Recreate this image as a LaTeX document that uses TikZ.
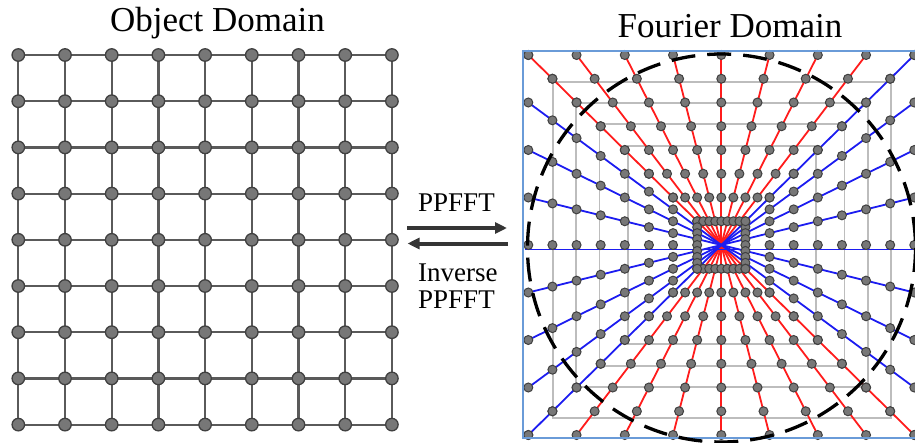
\documentclass[tikz,border=0pt]{standalone}
\usepackage{fontspec}
\setmainfont{Liberation Serif}
\usetikzlibrary{arrows.meta}
\definecolor{ptfill}{HTML}{777777}
\definecolor{ptdraw}{HTML}{404040}
\definecolor{gridline}{HTML}{5A5A5A}
\definecolor{sqgray}{HTML}{BDBDBD}
\definecolor{frameblue}{HTML}{6A9BD8}
\definecolor{rayred}{HTML}{FF1C1C}
\definecolor{rayblue}{HTML}{1C1CF0}
\definecolor{arrowgray}{HTML}{353535}
\begin{document}
\begin{tikzpicture}[x=1pt,y=-1pt,
  objpt/.style={circle,fill=ptfill,draw=ptdraw,line width=1.3pt,minimum size=12.5pt,inner sep=0pt},
  fpt/.style={circle,fill=ptfill,draw=ptdraw,line width=1pt,minimum size=9pt,inner sep=0pt},
  objline/.style={draw=gridline,line width=2.2pt},
  sqline/.style={draw=sqgray,line width=1.8pt},
  redray/.style={draw=rayred,line width=1.8pt},
  blueray/.style={draw=rayblue,line width=1.8pt},
  frame/.style={draw=frameblue,line width=2.2pt},
  ring/.style={draw=black,line width=3.3pt,dash pattern=on 24pt off 12pt},
  bigarrow/.style={draw=arrowgray,line width=4pt,-{Triangle[length=12pt,width=11pt]}},
  title/.style={inner sep=0pt,anchor=base,font=\fontsize{35}{42}\selectfont},
  label/.style={inner sep=0pt,anchor=base west,font=\fontsize{27}{32}\selectfont}]
\useasboundingbox (0,0) rectangle (915,442);

% ---------- Object domain ----------
\foreach \i in {0,...,8}{
  \foreach \j in {0,...,8}{
    \coordinate (c-\i-\j) at ({18.3+46.7*\i},{55+46.2*\j});
  }
}
\foreach \i in {0,...,8}{
  \draw[objline] (c-\i-0) -- (c-\i-8);
  \draw[objline] (c-0-\i) -- (c-8-\i);
}
\foreach \i in {0,...,8}{
  \foreach \j in {0,...,8}{
    \node[objpt] (o-\i-\j) at (c-\i-\j) {};
  }
}
\node[title] (tobj) at (217.5,31.7) {Object Domain};

% ---------- Arrows and labels ----------
\coordinate (a1s) at (407,228);
\coordinate (a1e) at (507,228);
\coordinate (a2s) at (508,243.5);
\coordinate (a2e) at (407.5,243.5);
\draw[bigarrow] (a1s) -- (a1e);
\draw[bigarrow] (a2s) -- (a2e);
\node[label] (lf) at (418,211.5) {PPFFT};
\node[label] (li1) at (418,281.7) {Inverse};
\node[label] (li2) at (418,308.3) {PPFFT};

% ---------- Fourier domain ----------
\def\cx{721.3}
\def\cy{245}
\def\Rx{193}
\def\Ry{190}
% gray concentric squares
\draw[sqline] (552.7,81.7) rectangle (891.3,417.7);
\draw[sqline] (576,103.3) rectangle (868,386.7);
\draw[sqline] (599.5,124) rectangle (844.5,366);
\draw[sqline] (627.7,145.7) rectangle (816.3,344.3);

% ray end points
\foreach \k in {-4,...,4}{
  \coordinate (rt\k) at ({\cx+\k/4*\Rx},{\cy-\Ry});
  \coordinate (rb\k) at ({\cx-\k/4*\Rx},{\cy+\Ry});
  \coordinate (bl\k) at ({\cx-\Rx},{\cy+\k/4*\Ry});
  \coordinate (br\k) at ({\cx+\Rx},{\cy-\k/4*\Ry});
}
\coordinate (hl) at (525,249.5);
\coordinate (hr) at (915,249.5);
\foreach \k in {-4,...,3}{
  \draw[redray] (rt\k) -- (rb\k);
}
\foreach \k in {-3,-2,-1,1,2,3,4}{
  \draw[blueray] (bl\k) -- (br\k);
}
\draw[blueray] (hl) -- (hr);

% pseudo-polar points
\foreach \j in {1,...,8}{
  \foreach \k in {-4,...,4}{
    \pgfmathsetmacro{\dx}{\k/4*\j/8*\Rx}
    \pgfmathsetmacro{\dy}{\k/4*\j/8*\Ry}
    \pgfmathsetmacro{\hx}{\j/8*\Rx}
    \pgfmathsetmacro{\hy}{\j/8*\Ry}
    \node[fpt] (ft-\j-\k) at ({\cx+(\dx)},{\cy-(\hy)}) {};
    \node[fpt] (fb-\j-\k) at ({\cx+(\dx)},{\cy+(\hy)}) {};
    \node[fpt] (fl-\j-\k) at ({\cx-(\hx)},{\cy+(\dy)}) {};
    \node[fpt] (fr-\j-\k) at ({\cx+(\hx)},{\cy+(\dy)}) {};
  }
}
% frame
\draw[frame] (523.3,50.8) rectangle (919.5,438.3);
% dashed circle
\coordinate (cc) at (721.5,248);
\draw[ring] (cc) circle[radius=194];
\node[title] (tfou) at (730,37.3) {Fourier Domain};
\end{tikzpicture}
\end{document}
